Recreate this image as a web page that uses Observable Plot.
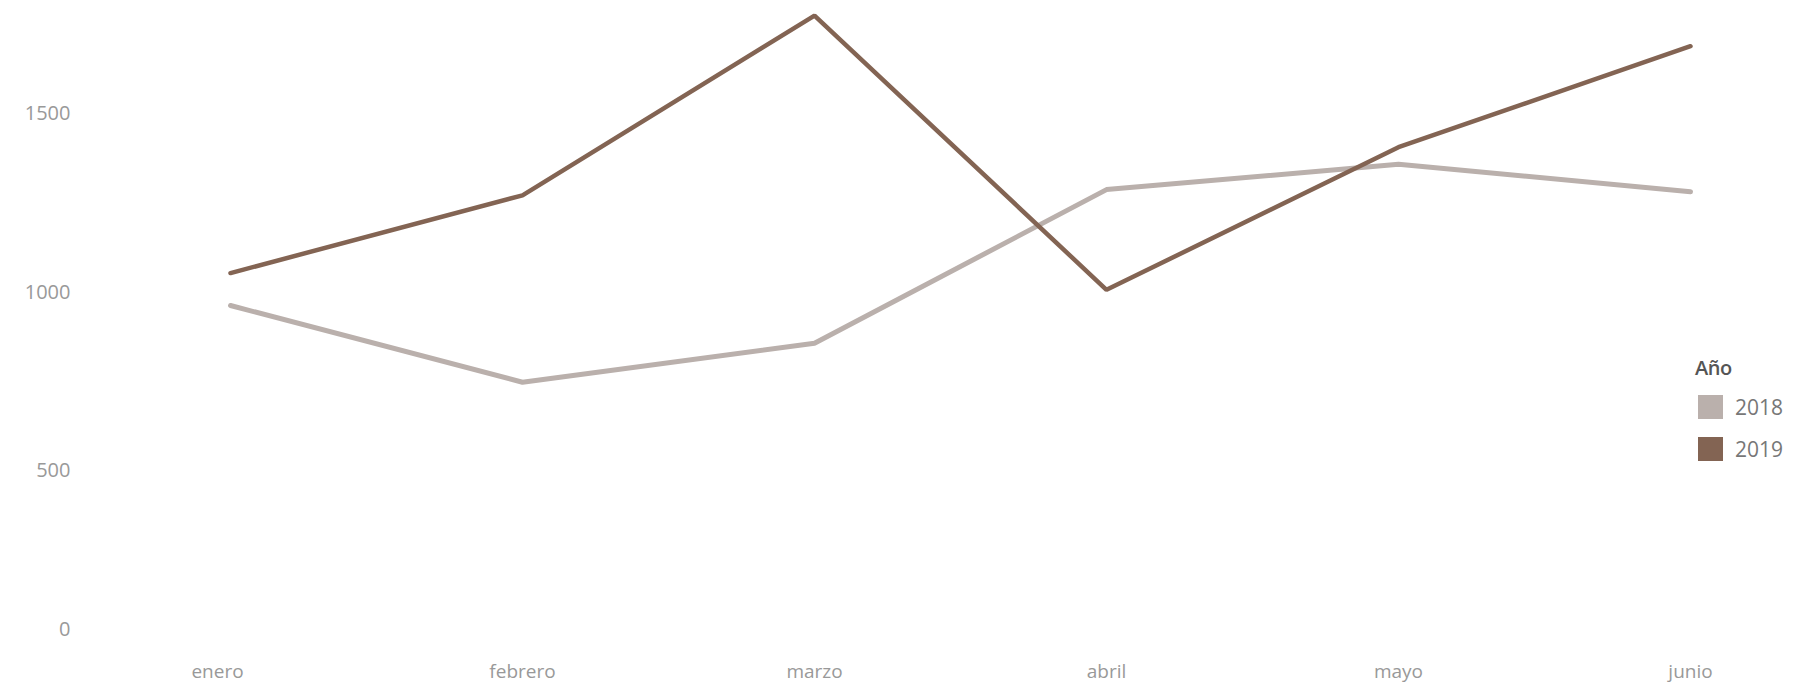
<!DOCTYPE html>
<html>
<head>
<meta charset="utf-8">
<script src="https://cdn.jsdelivr.net/npm/d3@7"></script>
<script src="https://cdn.jsdelivr.net/npm/@observablehq/plot@0.6"></script>
<style>
  html, body { margin: 0; padding: 0; background: #fff; }
  #wrap { position: relative; width: 1798px; height: 685px; }
  #legend { position: absolute; left: 1695px; top: 354px; font-family: "Open Sans", sans-serif; }
  #legend .title { font-size: 20px; font-weight: 600; color: #555; height: 28px; line-height: 28px; margin-bottom: 13px; letter-spacing: -0.5px; }
  #legend .row { display: flex; align-items: center; height: 24px; margin-bottom: 18px; }
  #legend .sw { width: 25px; height: 24px; margin-left: 3px; margin-right: 12px; }
  #legend .lab { font-size: 21px; color: #777; }
</style>
</head>
<body>
<div id="wrap"></div>
<script>
const months = ["enero", "febrero", "marzo", "abril", "mayo", "junio"];
const years = ["2018", "2019"];
const values2018 = [963, 748, 857, 1288, 1359, 1282];
const values2019 = [1054, 1272, 1776, 1007, 1407, 1690];
const yTicks = [500, 1000, 1500];
const yZeroTick = [0];
const colors = ["#bab0ac", "#836453"];

const data = [
  ...months.map((m, i) => ({month: m, year: "2018", value: values2018[i]})),
  ...months.map((m, i) => ({month: m, year: "2019", value: values2019[i]}))
];

const font = "'Open Sans', sans-serif";
const axisColor = "#999";

const chart = Plot.plot({
  width: 1798,
  height: 685,
  marginLeft: 230,
  marginRight: 108,
  marginTop: 6.5,
  marginBottom: 36.5,
  style: {fontFamily: font, fontSize: "19px", color: axisColor, background: "#fff"},
  x: {type: "point", domain: months, padding: 0, label: null},
  y: {domain: [0, 1800], label: null},
  color: {domain: years, range: colors},
  marks: [
    Plot.axisX(months.slice(1), {tickSize: 0, tickPadding: 15, label: null, fill: axisColor}),
    Plot.axisX(months.slice(0, 1), {tickSize: 0, tickPadding: 15, label: null, fill: axisColor, dx: -13}),
    Plot.axisY(yTicks, {tickSize: 0, tickPadding: 160, tickFormat: "d", label: null, fill: axisColor, fontSize: 20}),
    Plot.axisY(yZeroTick, {tickSize: 0, tickPadding: 160, tickFormat: "d", label: null, dy: -19, fill: axisColor, fontSize: 20}),
    Plot.line(data.filter(d => d.year === "2018"), {x: "month", y: "value", stroke: "year", strokeWidth: 5, strokeLinejoin: "miter"}),
    Plot.line(data.filter(d => d.year === "2019"), {x: "month", y: "value", stroke: "year", strokeWidth: 4.5, strokeLinejoin: "miter"})
  ]
});

const wrap = document.getElementById("wrap");
wrap.appendChild(chart);

const colorScale = chart.scale("color");
const legend = d3.select(wrap).append("div").attr("id", "legend");
legend.append("div").attr("class", "title").text("Año");
const rows = legend.selectAll(".row").data(years).join("div").attr("class", "row");
rows.append("div").attr("class", "sw").style("background", (d, i) => colorScale.range[i]);
rows.append("div").attr("class", "lab").text(d => d);
</script>
</body>
</html>
